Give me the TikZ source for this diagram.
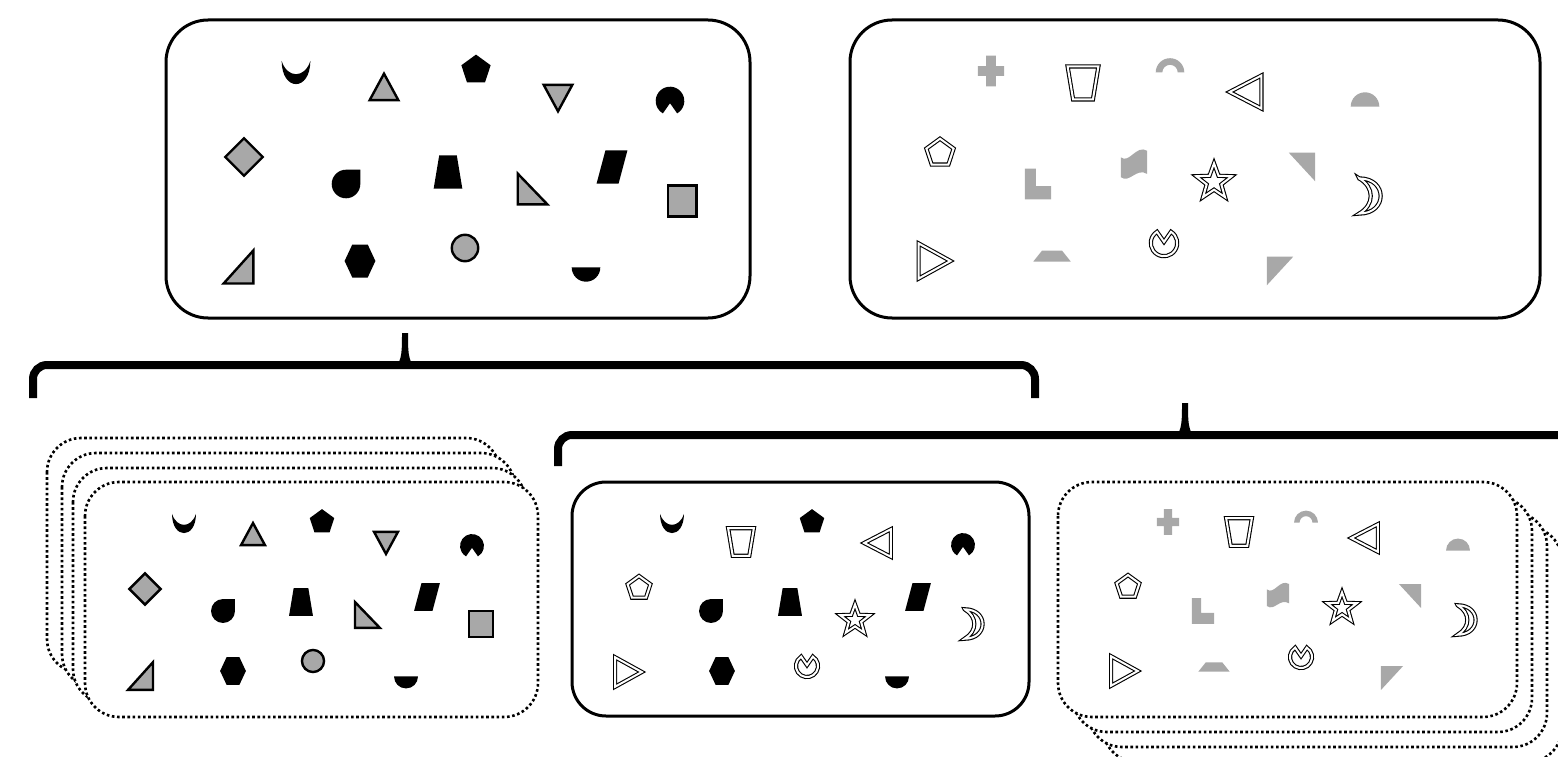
\documentclass[tikz,border=0pt]{standalone}
\usetikzlibrary{calc}
\definecolor{sg}{RGB}{168,168,168}
\tikzset{
  blk/.style={fill=black},
  gry/.style={fill=sg,draw=black,line width=2.4pt,line join=miter},
  gfl/.style={fill=sg},
  dbl/.style={draw=black,line width=1.1pt,double=white,double distance=2pt,line join=miter},
  box/.style={draw=black,line width=3pt,rounded corners=42pt,fill=white},
  sbox/.style={draw=black,line width=3pt,rounded corners=34pt,fill=white},
  dbox/.style={draw=black,line width=2.6pt,dash pattern=on 2.6pt off 2.6pt,rounded corners=34pt,fill=white},
  brace/.style={line width=8pt,rounded corners=14pt},
  moon/.pic={\fill[blk] (-13,-10) .. controls (-13,18) and (13,18) .. (13,-10) .. controls (8,6) and (-8,6) .. cycle;},
  triup/.pic={\path[gry] (-13,11)--(0,-13)--(13,11)--cycle;},
  pent/.pic={\fill[blk] (0,-14)--(13.3,-4.3)--(8.2,11.3)--(-8.2,11.3)--(-13.3,-4.3)--cycle;},
  tridn/.pic={\path[gry] (-13,-11)--(13,-11)--(0,13)--cycle;},
  pac/.pic={\fill[blk] (0,2) -- (60:13) arc[start angle=60,end angle=-240,radius=13] -- cycle;},
  diam/.pic={\path[gry] (0,-17)--(17,0)--(0,17)--(-17,0)--cycle;},
  tear/.pic={\fill[blk] (13,-13) -- (13,0) arc[start angle=0,end angle=270,radius=13] -- cycle;},
  trap/.pic={\fill[blk] (-8,-15)--(8,-15)--(13,15)--(-13,15)--cycle;},
  rtA/.pic={\path[gry] (-13,-14)--(-13,14)--(14,14)--cycle;},
  para/.pic={\fill[blk] (-6,-15)--(14,-15)--(6,15)--(-14,15)--cycle;},
  sq/.pic={\path[gry] (-13,-14)--(13,-14)--(13,14)--(-13,14)--cycle;},
  rtB/.pic={\path[gry] (13,-15)--(13,15)--(-14,15)--cycle;},
  hexa/.pic={\fill[blk] (-7,-15)--(7,-15)--(14,0)--(7,15)--(-7,15)--(-14,0)--cycle;},
  gcirc/.pic={\path[gry] (0,0) circle[radius=12];},
  hdisc/.pic={\fill[blk] (-13,-6) -- (13,-6) arc[start angle=0,end angle=180,radius=13] -- cycle;},
  plus/.pic={\fill[gfl] (-4.5,-14)--(4.5,-14)--(4.5,-4.5)--(12,-4.5)--(12,4.5)--(4.5,4.5)--(4.5,14)--(-4.5,14)--(-4.5,4.5)--(-12,4.5)--(-12,-4.5)--(-4.5,-4.5)--cycle;},
  itrap/.pic={\path[dbl] (-14,-15)--(14,-15)--(9,15)--(-9,15)--cycle;},
  garc/.pic={\fill[gfl] (-13,5) arc[start angle=180,end angle=360,radius=13] -- (7,5) arc[start angle=0,end angle=-180,radius=7] -- cycle;},
  trileft/.pic={\path[dbl] (14,-15)--(14,15)--(-15,0)--cycle;},
  ghdisc/.pic={\fill[gfl] (-13,6) arc[start angle=180,end angle=360,radius=13] -- cycle;},
  dpent/.pic={\path[dbl] (0,-13)--(12.4,-4)--(7.6,10.5)--(-7.6,10.5)--(-12.4,-4)--cycle;},
  gL/.pic={\fill[gfl] (-12,-14)--(-2,-14)--(-2,2)--(12,2)--(12,14)--(-12,14)--cycle;},
  flag/.pic={\fill[gfl] (-12,-6) .. controls (-4,0) and (2,-18) .. (12,-12) -- (12,9) .. controls (2,3) and (-4,18) .. (-12,12) -- cycle;},
  dstar/.pic={\path[dbl] (-90:17)--(-54:7)--(-18:17)--(18:7)--(54:17)--(90:7)--(126:17)--(162:7)--(198:17)--(234:7)--cycle;},
  gtTR/.pic={\fill[gfl] (-12,-13)--(12,-13)--(12,13)--cycle;},
  dcres/.pic={\path[dbl] (-8,-16) .. controls (18,-16) and (18,16) .. (-8,16) .. controls (6,8) and (6,-8) .. cycle;},
  triright/.pic={\path[dbl] (-14,-16)--(-14,16)--(15,0)--cycle;},
  gftrap/.pic={\fill[gfl] (-9,-5)--(9,-5)--(17,5)--(-17,5)--cycle;},
  dpac/.pic={\path[dbl] (0,-1) -- (-58:12) arc[start angle=-58,end angle=238,radius=12] -- cycle;},
  gtTL/.pic={\fill[gfl] (-12,-13)--(12,-13)--(-12,13)--cycle;},
}
\begin{document}
\begin{tikzpicture}[x=1pt,y=-1pt]
\useasboundingbox (0,0) rectangle (1558,757);
\clip (0,0) rectangle (1558,757);
% top-left box
\path[box] (166,20) rectangle (750,318);
\foreach \p/\x/\y in {moon/296/72,triup/384/88,pent/476/70,tridn/558/97,pac/670/101,diam/244/157,tear/346/184,trap/448/172,rtA/532/189,para/612/167,sq/682/201,rtB/239/267,hexa/360/261,gcirc/465/248,hdisc/586/274}
  \pic[scale=1.1] at (\x,\y) {\p};
% top-right box
\path[box] (850,20) rectangle (1540,318);
\foreach \p/\x/\y in {plus/991/71,itrap/1083/83,garc/1170/67,trileft/1246/92,ghdisc/1365/100,dpent/940/153,gL/1038/184,flag/1134/164,dstar/1214/182,gtTR/1302/167,dcres/1368/196,triright/934/261,gftrap/1052/256,dpac/1164/243,gtTL/1280/271}
  \pic[scale=1.1] at (\x,\y) {\p};
% braces
\draw[brace] (33,398) -- (33,365) -- (1035,365) -- (1035,398);
\fill (396,366) .. controls (402,360) and (402,350) .. (402,333) -- (408,333) .. controls (408,350) and (408,360) .. (414,366) -- cycle;
\draw[brace] (558,466) -- (558,435) -- (1600,435);
\fill (1176,436) .. controls (1182,430) and (1182,420) .. (1182,403) -- (1188,403) .. controls (1188,420) and (1188,430) .. (1194,436) -- cycle;
% bottom-left stack
\foreach \x/\y in {47/438,62/453,73/468,85/482}
  \path[dbox] (\x,\y) rectangle ++(453,235);
\foreach \p/\x/\y in {moon/184/523,triup/253/535,pent/322/522,tridn/386/542,pac/472/546,diam/145/589,tear/223/611,trap/301/602,rtA/367/615,para/427/597,sq/481/624,rtB/141/676,hexa/233/671,gcirc/313/661,hdisc/406/682}
  \pic[scale=0.92] at (\x,\y) {\p};
% middle box
\path[sbox] (572,482) rectangle (1029,716);
\foreach \p/\x/\y in {moon/672/523,itrap/741/542,pent/812/522,trileft/878/543,pac/963/545,dpent/639/588,tear/711/611,trap/790/602,dstar/855/620,para/918/597,dcres/972/624,triright/628/672,hexa/722/671,dpac/807/666,hdisc/897/682}
  \pic[scale=0.92] at (\x,\y) {\p};
% bottom-right stack
\foreach \x/\y in {1103/527,1088/512,1073/497,1058/482}
  \path[dbox] (\x,\y) rectangle ++(459,235);
\foreach \p/\x/\y in {plus/1168/522,itrap/1239/532,garc/1306/518,trileft/1365/538,ghdisc/1458/545,dpent/1128/587,gL/1203/611,flag/1278/595,dstar/1342/608,gtTR/1410/596,dcres/1465/620,triright/1124/671,gftrap/1214/667,dpac/1301/657,gtTL/1392/678}
  \pic[scale=0.92] at (\x,\y) {\p};
\end{tikzpicture}
\end{document}
